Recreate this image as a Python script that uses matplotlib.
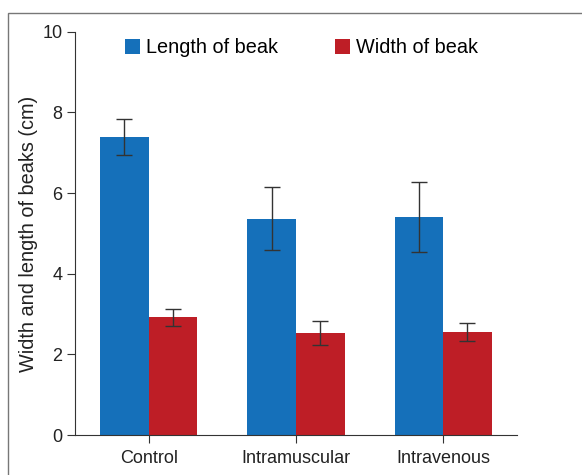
import matplotlib.pyplot as plt
import numpy as np
from matplotlib.patches import Rectangle

plt.rcParams['font.family'] = ['Liberation Sans', 'DejaVu Sans']

groups = ["Control", "Intramuscular", "Intravenous"]
length_mean = [7.39, 5.36, 5.41]
length_err = [0.45, 0.78, 0.87]
width_mean = [2.92, 2.53, 2.56]
width_err = [0.21, 0.29, 0.23]

blue = "#1570ba"
red = "#be1e26"

fig = plt.figure(figsize=(5.82, 4.75), dpi=100)
ax = fig.add_axes([0.129, 0.084, 0.759, 0.849])

x = np.arange(len(groups))
w = 0.33
ax.bar(x - w / 2, length_mean, w, color=blue, label="Length of beak",
       yerr=length_err, error_kw=dict(ecolor="#333333", elinewidth=1, capsize=6, capthick=1))
ax.bar(x + w / 2, width_mean, w, color=red, label="Width of beak",
       yerr=width_err, error_kw=dict(ecolor="#333333", elinewidth=1, capsize=6, capthick=1))

ax.set_xlim(-0.5, 2.5)
ax.set_ylim(0, 10)
ax.set_yticks([0, 2, 4, 6, 8, 10])
ax.set_xticks(x)
ax.set_xticklabels(groups)
ax.tick_params(labelsize=13, color="#333333", labelcolor="#222222", length=5.5)
ax.tick_params(axis="x", pad=5.5)
ax.set_ylabel("Width and length of beaks (cm)", fontsize=14.3, color="#222222", labelpad=3)
ax.spines["top"].set_visible(False)
ax.spines["right"].set_visible(False)
ax.spines["left"].set_color("#333333")
ax.spines["bottom"].set_color("#333333")

ax.legend(loc="upper left", bbox_to_anchor=(0.073, 1.028), ncol=2, frameon=False,
          fontsize=14.3, handlelength=0.75, handleheight=0.75, columnspacing=2.85,
          handletextpad=0.3)

fig.patches.append(Rectangle((8 / 582, -0.05), 1.0, (475 - 13) / 475 + 0.05,
                             transform=fig.transFigure, fill=False,
                             edgecolor="#777777", linewidth=1))

fig.savefig("out.png", dpi=100)
